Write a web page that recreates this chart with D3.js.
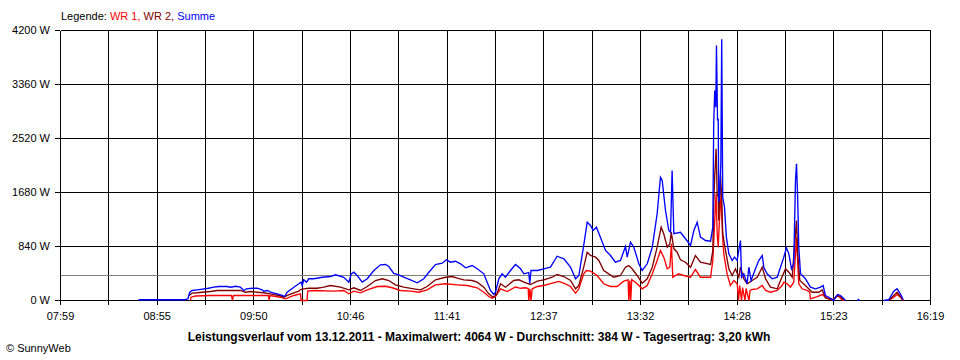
<!DOCTYPE html>
<html><head><meta charset="utf-8">
<script src="https://cdn.jsdelivr.net/npm/d3@7/dist/d3.min.js"></script>
<style>
body{margin:0;background:#fff}
svg{display:block}
text{font-family:"Liberation Sans",Arial,sans-serif;font-size:11px;fill:#000}
</style>
</head><body><svg id="c" width="960" height="360"></svg>
<script>
// ---- data (time in minutes since midnight, power in W) ----
const xTickLabels = ["07:59","08:55","09:50","10:46","11:41","12:37","13:32","14:28","15:23","16:19"];
const yTickValues = [0, 840, 1680, 2520, 3360, 4200];
const startMinute = 479, endMinute = 979;
const averageW = 384;
const titleText = "Leistungsverlauf vom 13.12.2011 - Maximalwert: 4064 W - Durchschnitt: 384 W - Tagesertrag: 3,20 kWh";
const seriesNames = ["WR 1", "WR 2", "Summe"];

const sumT = [523.8,549.7,552.2,553.3,554.7,557.6,560.4,563.3,567.1,570.0,574.8,576.7,579.6,582.4,584.3,585.9,589.2,592.0,594.9,595.8,597.8,599.7,603.5,606.4,607.7,609.3,613.1,616.0,617.3,617.9,618.8,620.4,621.7,624.6,629.4,634.2,637.0,641.8,644.7,646.1,647.6,649.5,652.4,655.3,659.1,662.9,665.8,667.7,670.5,673.4,676.3,680.1,684.0,687.8,690.7,694.5,698.4,700.8,703.1,706.0,708.9,711.8,715.6,718.5,722.3,724.2,726.1,728.0,729.0,730.9,732.8,734.7,737.6,740.5,743.4,745.3,748.1,748.7,749.4,753.0,756.8,760.6,764.4,768.3,772.1,775.0,776.9,779.7,781.7,783.6,785.1,787.0,789.3,792.2,795.1,797.9,800.8,803.7,804.7,806.6,808.5,811.4,813.3,816.2,819.1,821.9,823.8,824.8,826.7,828.6,829.6,830.5,831.5,835.3,838.2,841.1,843.0,844.9,846.8,849.7,852.6,853.9,854.4,855.0,855.6,856.0,856.6,857.0,857.3,857.9,858.5,859.0,859.6,860.6,861.7,863.1,865.0,866.3,867.9,868.8,869.8,870.4,871.7,873.6,874.6,875.9,878.4,880.3,882.3,883.2,885.1,888.0,890.9,892.8,894.7,896.2,897.6,899.1,900.4,901.4,902.0,902.7,903.3,904.3,907.1,910.0,912.9,915.8,917.3,918.6,920.5,923.4,924.4,925.7,927.3,929.2,930.1,934.0,937.0,937.6,938.2,945.0,952.1,955.0,957.9,959.8,961.7,963.3];
const sumW = [11,11,26,129,156,166,176,187,207,218,218,207,222,207,156,182,191,191,166,145,156,129,104,78,62,129,207,260,285,233,322,285,338,338,362,373,400,362,285,415,440,389,285,338,467,555,560,529,420,400,362,322,275,338,440,560,580,633,596,611,571,509,544,493,415,285,156,93,129,338,415,362,467,560,493,415,435,264,467,467,493,518,689,649,518,338,389,856,1218,1167,1089,1140,985,778,700,596,622,840,674,907,829,571,467,571,829,1349,1918,1867,1400,1089,1062,2022,1038,1062,960,856,1089,1218,985,933,922,1140,2749,3267,3007,3967,2800,2826,1530,1660,2126,4064,1608,1452,985,726,622,674,622,778,933,362,415,260,518,311,493,622,700,518,415,338,362,518,674,820,726,493,571,1867,2126,1556,829,415,338,207,182,207,233,78,51,0,51,93,78,26,0,null,0,15,0,null,0,11,145,182,104,11];

const wr1T = [553.7,554.0,556.6,565.2,577.3,577.8,578.4,589.9,598.5,598.9,599.4,605.4,608.3,613.1,616.9,617.3,620.7,621.1,624.6,636.1,641.8,644.7,647.6,651.4,655.3,661.0,665.8,669.6,674.4,680.1,684.9,689.7,694.5,700.3,707.0,712.7,718.5,722.3,725.1,727.1,729.0,731.9,735.7,740.5,743.4,746.3,747.8,748.1,748.8,749.4,750.1,753.0,756.8,761.6,765.4,769.2,772.1,775.0,776.9,779.7,781.3,783.6,787.4,791.2,795.1,798.9,802.7,805.2,805.6,806.2,806.7,807.3,810.4,813.3,816.2,819.1,821.9,823.8,825.7,827.7,829.2,830.1,830.9,832.4,834.3,837.2,841.1,843.9,846.8,852.6,853.9,855.0,855.8,856.4,857.0,857.7,858.7,859.4,860.2,862.1,864.0,866.0,867.9,868.7,869.3,870.4,871.0,872.4,873.0,874.7,875.3,876.5,879.4,882.3,884.2,887.0,890.9,893.7,894.7,896.6,898.5,900.4,902.0,903.3,905.2,908.1,909.6,910.0,913.9,916.7,918.6,921.5,923.4,925.7,928.2,930.1,945.0,955.0,957.9,959.8,961.7,963.3];
const wr1W = [0,51,70,78,78,0,78,78,78,0,78,51,26,78,104,0,0,145,156,145,156,104,145,120,166,218,222,198,156,145,129,166,244,260,244,233,198,129,62,36,62,182,140,210,190,198,187,0,182,0,182,218,233,269,296,260,218,114,182,415,467,456,389,260,218,218,300,322,0,311,0,327,260,182,233,415,622,778,674,493,518,882,362,389,415,389,362,482,362,362,622,1245,1660,1038,829,1245,1660,1038,726,415,233,311,260,0,233,0,202,0,187,0,156,171,182,233,156,129,156,233,285,260,207,285,980,260,182,156,129,26,62,93,51,11,26,78,11,0,null,0,51,93,51,0];

const wr2T = [552.7,554.7,557.6,560.4,565.2,569.1,576.7,582.4,585.3,588.2,592.0,595.8,599.7,604.5,607.3,609.3,613.1,616.0,616.9,618.8,621.7,626.5,630.3,634.2,639.9,644.7,647.6,651.4,655.3,660.0,663.9,667.7,671.5,676.3,682.0,685.9,689.7,694.5,700.3,704.1,707.0,710.8,715.6,718.5,722.3,725.1,727.7,729.6,731.9,734.7,739.5,742.4,745.3,749.1,753.0,756.8,761.6,764.4,768.3,772.1,775.0,776.9,779.7,781.7,783.6,786.5,788.4,791.2,794.1,797.0,800.8,803.7,805.6,807.5,810.4,813.3,816.2,819.1,821.9,824.2,825.7,827.7,829.2,830.0,831.5,833.4,835.3,838.2,841.1,843.9,846.8,852.6,853.9,854.4,855.0,855.8,856.4,857.0,857.3,858.3,858.9,859.6,861.2,863.1,865.0,866.9,868.8,869.8,871.7,873.6,876.5,879.4,882.3,884.2,887.0,890.9,892.8,895.7,897.6,899.5,901.4,902.0,902.7,903.9,907.1,911.0,914.8,916.7,918.6,923.4,925.3,927.3,929.6,945.0,955.0,957.9,959.8,962.1,963.3];
const wr2W = [78,114,120,129,140,156,156,156,129,140,129,120,104,78,51,78,120,145,171,182,191,191,207,233,207,166,198,156,218,311,338,311,244,207,182,166,218,322,362,373,347,322,311,285,207,104,51,93,260,207,311,322,285,249,300,322,362,404,373,311,182,233,518,751,700,674,622,467,415,362,389,518,544,493,389,269,338,518,829,1140,1038,829,882,1062,804,751,633,596,518,700,596,560,778,1478,1945,2360,1660,1607,1245,1950,1660,1038,778,493,389,493,362,518,338,260,311,362,518,338,207,182,311,493,440,362,1038,1245,726,311,233,129,129,166,42,11,73,62,0,null,0,78,129,51,0];

// ---- chart ----
const svg = d3.select("#c");
svg.append("rect").attr("width",960).attr("height",360).attr("fill","#fff");

const x = d3.scaleLinear().domain([startMinute, endMinute]).range([60, 930]);
const y = d3.scaleLinear().domain([0, 4200]).range([300, 30]);

const gridMinutes = d3.range(19).map(i => startMinute + i * (endMinute - startMinute) / 18);

const grid = svg.append("g").attr("shape-rendering","crispEdges");
grid.selectAll("line.v").data(gridMinutes).join("line")
  .attr("x1", d => Math.round(x(d)) + 0.5).attr("x2", d => Math.round(x(d)) + 0.5)
  .attr("y1", y(4200) + 0.5).attr("y2", y(0) + 0.5)
  .attr("stroke","#000").attr("stroke-width",1);
grid.selectAll("line.h").data(yTickValues).join("line")
  .attr("x1", x(startMinute) + 0.5).attr("x2", x(endMinute) + 0.5)
  .attr("y1", d => Math.round(y(d)) + 0.5).attr("y2", d => Math.round(y(d)) + 0.5)
  .attr("stroke","#000").attr("stroke-width",1);

// average line
svg.append("line").attr("shape-rendering","crispEdges")
  .attr("x1", x(startMinute) + 1).attr("x2", x(endMinute))
  .attr("y1", Math.round(y(averageW)) + 0.5).attr("y2", Math.round(y(averageW)) + 0.5)
  .attr("stroke","#808080").attr("stroke-width",1);

// axes
const xAxis = d3.axisBottom(x).tickValues(gridMinutes)
  .tickFormat((d,i) => i % 2 === 0 ? xTickLabels[i/2] : "")
  .tickSize(5).tickPadding(7);
const gx = svg.append("g").attr("transform","translate(0,300)").call(xAxis);
const yAxis = d3.axisLeft(y).tickValues(yTickValues).tickFormat(d => d + " W").tickSize(5).tickPadding(5);
const gy = svg.append("g").attr("transform","translate(60,0)").call(yAxis);
[gx, gy].forEach(g => {
  g.select(".domain").remove();
  g.selectAll("line").attr("stroke","#000").attr("shape-rendering","crispEdges");
  g.selectAll("text").attr("font-family",'"Liberation Sans",Arial,sans-serif').attr("font-size",11).attr("fill","#000");
});

// series
function toPoints(T, W){ return T.map((t,i) => ({t, w: W[i]})); }
const line = d3.line().defined(d => d.w !== null).x(d => x(d.t)).y(d => y(d.w));
const series = [
  {name: seriesNames[0], pts: toPoints(wr1T, wr1W), color: "#ff0000"},
  {name: seriesNames[1], pts: toPoints(wr2T, wr2W), color: "#800000"},
  {name: seriesNames[2], pts: toPoints(sumT, sumW), color: "#0000ff"}
];
const sg = svg.append("g").attr("transform","translate(0.5,0.5)");
sg.selectAll("path").data(series).join("path")
  .attr("d", d => line(d.pts))
  .attr("fill","none").attr("stroke", d => d.color).attr("stroke-width",1.35)
  .attr("stroke-linejoin","miter");

// legend
const leg = svg.append("text").attr("x",61).attr("y",20);
leg.append("tspan").text("Legende: ");
series.forEach((s,i) => {
  leg.append("tspan").attr("fill", s.color).style("fill", s.color).text(s.name + (i < series.length-1 ? ", " : ""));
});

// title
svg.append("text").attr("x",479).attr("y",341).attr("text-anchor","middle")
  .attr("font-weight","bold").style("font-size","12px").text(titleText);
svg.append("text").attr("x",6).attr("y",352).text("\u00A9 SunnyWeb");
</script>
</body></html>
